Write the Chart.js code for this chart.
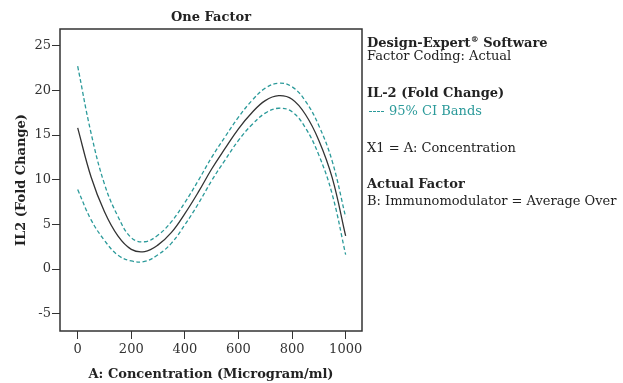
<!DOCTYPE html>
<html>
<head>
<meta charset="utf-8">
<script src="https://cdn.jsdelivr.net/npm/chart.js@4.4.1/dist/chart.umd.min.js"></script>
<style>
  body { margin: 0; background: #fff; }
  #wrap { position: relative; width: 623px; height: 383px; }
  #side { position: absolute; left: 367px; top: 0; font-family: "DejaVu Serif", serif; font-size: 13px; color: #222; }
  #side div { position: absolute; left: 0; white-space: nowrap; line-height: 16px; }
  #side b { font-weight: bold; }
  .teal { color: #2b9a9a; }
  .dash { display: inline-block; width: 15px; border-top: 1px dashed #2b9a9a; vertical-align: middle; margin: 0 5px 0 2px; }
</style>
</head>
<body>
<div id="wrap">
  <canvas id="myChart" width="623" height="383"></canvas>
  <div id="side">
    <div style="top:31px"><b>Design-Expert<sup style="font-size:8px">®</sup> Software</b></div>
    <div style="top:48px">Factor Coding: Actual</div>
    <div style="top:85px"><b>IL-2 (Fold Change)</b></div>
    <div style="top:103px" class="teal"><span class="dash"></span>95% CI Bands</div>
    <div style="top:140px">X1 = A: Concentration</div>
    <div style="top:176px"><b>Actual Factor</b></div>
    <div style="top:193px">B: Immunomodulator = Average Over</div>
  </div>
</div>
<script>
// values
const conc = [0, 50, 100, 150, 200, 250, 300, 350, 400, 450, 500, 550, 600, 650, 700, 750, 800, 850, 900, 950, 1000];
const il2Mean  = [15.8, 10.3, 6.4, 3.7, 2.2, 1.95, 2.7, 4.1, 6.2, 8.6, 11.2, 13.5, 15.7, 17.5, 18.85, 19.4, 19.0, 17.3, 14.4, 10.2, 3.7];
const ciUpper  = [22.7, 15.2, 9.5, 5.9, 3.5, 3.05, 3.8, 5.3, 7.45, 9.9, 12.5, 14.8, 17.0, 18.85, 20.25, 20.8, 20.4, 18.8, 16.05, 12.05, 5.8];
const ciLower  = [8.9, 5.5, 3.2, 1.55, 0.9, 0.85, 1.6, 2.9, 4.95, 7.3, 9.9, 12.2, 14.4, 16.15, 17.45, 18.0, 17.6, 15.8, 12.75, 8.35, 1.6];
const xTicks = [0, 200, 400, 600, 800, 1000];
const yTicks = [-5, 0, 5, 10, 15, 20, 25];

const teal = '#2b9a9a';
const ink = '#333';
const serif = '"DejaVu Serif", serif';

function pts(ys) {
  return conc.map((x, i) => ({ x: x, y: ys[i] }));
}

// frame + plot title
const framePlugin = {
  id: 'frame',
  afterDraw(chart) {
    const a = chart.chartArea;
    const c = chart.ctx;
    c.save();
    c.strokeStyle = ink;
    c.lineWidth = 1.5;
    c.strokeRect(a.left, a.top, a.right - a.left, a.bottom - a.top);
    c.fillStyle = '#222';
    c.font = 'bold 13px ' + serif;
    c.textAlign = 'center';
    c.textBaseline = 'middle';
    c.fillText('One Factor', (a.left + a.right) / 2, 18);
    c.restore();
  }
};

const ctx = document.getElementById('myChart');
new Chart(ctx, {
  type: 'line',
  data: {
    datasets: [
      { label: 'upper', data: pts(ciUpper), borderColor: teal, borderWidth: 1.3, borderDash: [4, 2.5] },
      { label: 'IL-2', data: pts(il2Mean), borderColor: ink, borderWidth: 1.3 },
      { label: 'lower', data: pts(ciLower), borderColor: teal, borderWidth: 1.3, borderDash: [4, 2.5] }
    ]
  },
  options: {
    responsive: false,
    animation: false,
    elements: { point: { radius: 0 }, line: { tension: 0.4, fill: false } },
    layout: { padding: { top: 29, right: 261, left: 0, bottom: 0 } },
    plugins: { legend: { display: false }, tooltip: { enabled: false }, title: { display: false } },
    scales: {
      x: {
        type: 'linear',
        min: -66,
        max: 1061,
        afterBuildTicks: s => { s.ticks = xTicks.map(v => ({ value: v })); },
        afterFit: s => { s.height = 52; },
        border: { display: false },
        grid: { drawOnChartArea: false, tickLength: 8, color: ink, lineWidth: 1 },
        ticks: { color: ink, padding: 3, maxRotation: 0, font: { family: serif, size: 13 },
                 callback: v => String(v) },
        title: { display: true, text: 'A: Concentration (Microgram/ml)', color: '#222',
                 font: { family: serif, size: 13, weight: 'bold' }, padding: { top: 0, bottom: 1 } }
      },
      y: {
        min: -6.94,
        max: 26.87,
        afterBuildTicks: s => { s.ticks = yTicks.map(v => ({ value: v })); },
        afterFit: s => { s.width = 60; },
        border: { display: false },
        grid: { drawOnChartArea: false, tickLength: 8, color: ink, lineWidth: 1 },
        ticks: { color: ink, padding: 1, font: { family: serif, size: 13 }, callback: v => String(v) },
        title: { display: true, text: 'IL2 (Fold Change)', color: '#222',
                 font: { family: serif, size: 13, weight: 'bold' }, padding: { top: 14, bottom: 0 } }
      }
    }
  },
  plugins: [framePlugin]
});
</script>
</body>
</html>
